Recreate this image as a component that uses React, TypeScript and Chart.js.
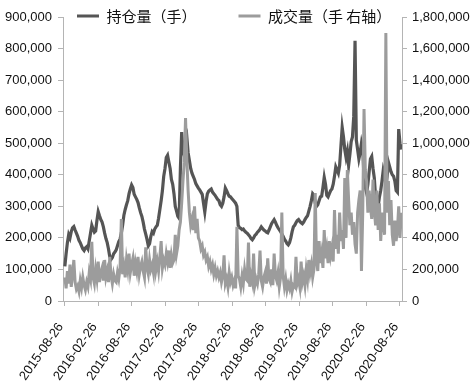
import React, { useEffect, useRef } from 'react';
import { Chart, registerables } from 'chart.js';

Chart.register(...registerables);

// ---- data (thousands of lots), weekly samples from START_DATE ----
const START_DATE = '2015-08-26';
const TICK_DATES = [
  '2015-08-26', '2016-02-26', '2016-08-26', '2017-02-26', '2017-08-26', '2018-02-26',
  '2018-08-26', '2019-02-26', '2019-08-26', '2020-02-26', '2020-08-26',
];
const SERIES_NAMES = ['持仓量（手）', '成交量（手 右轴）'];

const OPEN_INTEREST_K = [
  110, 150, 185, 210, 200, 220, 232, 236, 225, 215,
  205, 192, 185, 175, 165, 160, 168, 172, 165, 190,
  215, 240, 228, 218, 222, 255, 283, 270, 258, 250,
  235, 215, 198, 185, 165, 140, 132, 138, 150, 155,
  162, 175, 188, 196, 215, 240, 272, 290, 305, 318,
  340, 355, 368, 360, 338, 330, 322, 312, 295, 280,
  268, 250, 228, 212, 195, 175, 182, 205, 220, 215,
  228, 235, 240, 262, 290, 318, 350, 395, 420, 455,
  462, 440, 420, 385, 370, 340, 300, 285, 268, 262,
  420, 535, 480, 462, 505, 520, 470, 445, 420, 405,
  395, 385, 372, 365, 358, 352, 345, 338, 310, 282,
  315, 340, 348, 352, 355, 345, 340, 335, 328, 322,
  318, 305, 300, 310, 330, 358, 350, 340, 332, 330,
  325, 320, 315, 310, 300, 240, 232, 230, 226, 228,
  222, 218, 215, 210, 205, 198, 194, 200, 208, 212,
  218, 222, 228, 235, 230, 225, 222, 218, 216, 225,
  235, 245, 252, 258, 250, 240, 232, 226, 220, 212,
  205, 196, 190, 182, 178, 185, 200, 220, 235, 240,
  248, 255, 258, 252, 248, 245, 250, 258, 265, 270,
  285, 300, 318, 340, 335, 310, 300, 305, 318, 330,
  332, 360, 392, 370, 335, 330, 340, 350, 355, 370,
  395, 425, 415, 405, 430, 490, 550, 520, 480, 455,
  475, 430, 465, 505, 520, 585, 825, 510, 480, 450,
  470, 500, 480, 390, 360, 343, 370, 410, 450, 458,
  420, 390, 330, 285, 300, 330, 350, 380, 415, 400,
  365, 395, 440, 425, 410, 400, 395, 380, 350, 345,
  545, 500, 480,
];

const VOLUME_K = [
  150, 80, 190, 110, 230, 90, 170, 260, 120, 75,
  95, 60, 130, 85, 150, 100, 70, 120, 90, 180,
  140, 375, 150, 110, 200, 140, 250, 120, 180, 210,
  130, 260, 150, 190, 120, 280, 160, 110, 170, 130,
  120, 180, 140, 210, 520, 170, 220, 150, 260, 200,
  300, 180, 230, 270, 160, 240, 190, 280, 170, 220,
  250, 190, 150, 340, 210, 170, 260, 200, 230, 180,
  350, 200, 250, 190, 280, 380, 210, 260, 230, 300,
  250, 320, 210, 290, 240, 260, 420, 300, 350, 450,
  500, 620, 760, 880, 1160, 900, 700, 560, 480, 520,
  450, 600, 430, 520, 400, 380, 330, 350, 290, 310,
  260, 280, 220, 250, 200, 230, 170, 210, 160, 190,
  150, 180, 120, 160, 290, 110, 140, 90, 180, 120,
  150, 100, 130, 80, 470, 160, 140, 90, 160, 110,
  200, 140, 130, 370, 90, 160, 120, 300, 100, 140,
  110, 170, 320, 130, 90, 150, 180, 110, 270, 140,
  120, 200, 100, 300, 160, 130, 180, 90, 150, 560,
  160, 90, 140, 70, 110, 80, 130, 60, 100, 90,
  280, 110, 140, 90, 250, 120, 160, 100, 200, 140,
  260, 180, 230, 150, 200, 684, 250, 190, 380, 240,
  300, 210, 450, 270, 330, 240, 380, 290, 340, 250,
  577, 330, 420, 300, 560, 380, 450, 330, 780, 400,
  830, 640, 480, 560, 420, 500, 360, 300, 560, 640,
  700, 190, 560, 1217, 830, 760, 560, 700, 600, 520,
  770, 580, 480, 700, 450, 620, 380, 560, 500, 420,
  1699, 560, 760, 480, 640, 420, 350, 510, 380, 450,
  600, 400, 560,
];

const LEFT_MAX = 900000;
const LEFT_STEP = 100000;
const RIGHT_MAX = 1800000;
const RIGHT_STEP = 200000;

// ---- style ----
const DARK = '#555555';
const LIGHT = '#9c9c9c';
const AXIS = '#b4b4b4';
const TEXT = '#111111';
const NUM_FONT = "'Liberation Sans', sans-serif";
const CJK_FONT = "'Noto Sans CJK SC', 'Liberation Sans', sans-serif";
const LEGEND_X = 77;
const LEGEND_CY = 16;

const DAY = 86400000;
const dayOffset = (d: string) =>
  Math.round((Date.parse(d + 'T00:00:00Z') - Date.parse(START_DATE + 'T00:00:00Z')) / DAY);

const legendPlacer = {
  id: 'legendPlacer',
  beforeInit(chart: any) {
    const lg = chart.legend;
    if (lg && !lg.__patched) {
      const fit = lg.fit;
      lg.fit = function () {
        fit.call(this);
        this.height = 0;
      };
      lg.__patched = true;
    }
  },
  afterLayout(chart: any) {
    const lg = chart.legend;
    if (!lg) return;
    const pad = lg.options.labels.padding;
    const size = lg.options.labels.font.size;
    lg.left = LEGEND_X - pad;
    lg.right = chart.width;
    lg.top = LEGEND_CY - size / 2 - pad;
    lg.bottom = LEGEND_CY + size / 2 + pad;
  },
};

export default function App() {
  const ref = useRef<HTMLCanvasElement | null>(null);

  useEffect(() => {
    document.body.style.margin = '0';
    const canvas = ref.current;
    if (!canvas) return;
    const oi = OPEN_INTEREST_K.map((v, i) => ({ x: i * 7, y: v * 1000 }));
    const vol = VOLUME_K.map((v, i) => ({ x: i * 7, y: v * 1000 }));
    const tickValues = TICK_DATES.map(dayOffset);

    const chart = new Chart(canvas, {
      type: 'line',
      data: {
        datasets: [
          {
            label: SERIES_NAMES[0],
            data: oi,
            yAxisID: 'y',
            borderColor: DARK,
            backgroundColor: DARK,
            borderWidth: 3.2,
            pointRadius: 0,
            tension: 0,
            order: 2,
          },
          {
            label: SERIES_NAMES[1],
            data: vol,
            yAxisID: 'y1',
            borderColor: LIGHT,
            backgroundColor: LIGHT,
            borderWidth: 3,
            pointRadius: 0,
            tension: 0,
            order: 1,
          },
        ],
      },
      options: {
        animation: false,
        responsive: true,
        maintainAspectRatio: false,
        layout: { padding: { top: 17, left: 0, right: 0, bottom: 0 } },
        plugins: {
          tooltip: { enabled: false },
          legend: {
            display: true,
            position: 'top',
            align: 'start',
            labels: {
              boxWidth: 22,
              boxHeight: 3,
              padding: 42,
              color: TEXT,
              font: { size: 15, family: CJK_FONT },
              generateLabels: () =>
                SERIES_NAMES.map((name, k) => ({
                  text: name,
                  fillStyle: k === 0 ? DARK : LIGHT,
                  strokeStyle: k === 0 ? DARK : LIGHT,
                  lineWidth: 0,
                  hidden: false,
                  datasetIndex: k,
                  fontColor: TEXT,
                })),
            },
          },
        },
        scales: {
          x: {
            type: 'linear',
            min: -10,
            max: 1838,
            afterBuildTicks: (scale: any) => {
              scale.ticks = tickValues.map((v) => ({ value: v }));
            },
            afterFit: (scale: any) => {
              scale.height = 90;
            },
            grid: {
              display: true,
              drawOnChartArea: false,
              drawTicks: true,
              tickLength: 5,
              color: AXIS,
            },
            border: { display: true, color: AXIS, width: 1 },
            ticks: {
              autoSkip: false,
              minRotation: 55,
              maxRotation: 55,
              padding: 14,
              labelOffset: -4,
              color: TEXT,
              font: { size: 13, family: NUM_FONT },
              callback: (_v: any, i: number) => TICK_DATES[i],
            },
          },
          y: {
            position: 'left',
            min: 0,
            max: LEFT_MAX,
            afterFit: (scale: any) => {
              scale.width = 63;
            },
            grid: {
              display: true,
              drawOnChartArea: false,
              drawTicks: true,
              tickLength: 5,
              color: AXIS,
            },
            border: { display: true, color: AXIS, width: 1 },
            ticks: {
              stepSize: LEFT_STEP,
              padding: 6,
              color: TEXT,
              font: { size: 13, family: NUM_FONT },
              callback: (v: any) => Number(v).toLocaleString('en-US'),
            },
          },
          y1: {
            position: 'right',
            min: 0,
            max: RIGHT_MAX,
            afterFit: (scale: any) => {
              scale.width = 71;
            },
            grid: {
              display: true,
              drawOnChartArea: false,
              drawTicks: true,
              tickLength: 5,
              color: AXIS,
            },
            border: { display: true, color: AXIS, width: 1 },
            ticks: {
              stepSize: RIGHT_STEP,
              padding: 5,
              color: TEXT,
              font: { size: 13, family: NUM_FONT },
              callback: (v: any) => Number(v).toLocaleString('en-US'),
            },
          },
        },
      },
      plugins: [legendPlacer],
    } as any);

    return () => chart.destroy();
  }, []);

  return (
    <div style={{ position: 'relative', width: 473, height: 391 }}>
      <canvas ref={ref} />
    </div>
  );
}
